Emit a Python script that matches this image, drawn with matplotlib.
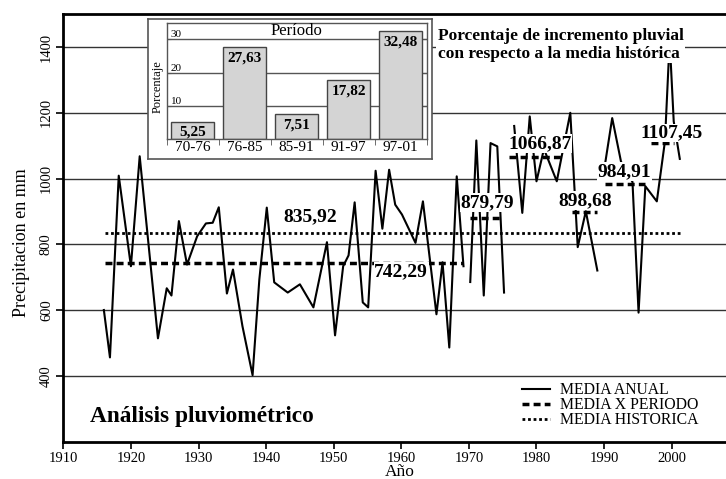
import numpy as np
import matplotlib
matplotlib.use('Agg')
import matplotlib.pyplot as plt

plt.rcParams['font.family'] = 'Liberation Serif'

# serie anual (nan = hueco en la serie)
anios = [1916.0, 1916.9, 1918.2, 1920.0, 1921.3, 1924.0, 1925.3, 1926.0, 1927.1, 1928.3,
         1929.8, 1931.1, 1932.1, 1933.0, 1934.2, 1935.1, 1936.5, 1938.0, 1939.0, 1940.1,
         1941.2, 1943.2, 1945.0, 1947.0, 1949.0, 1950.2, 1951.4, 1952.2, 1953.1, 1954.3,
         1955.1, 1956.2, 1957.2, 1958.2, 1959.1, 1960.1, 1962.1, 1963.2, 1965.2, 1966.1,
         1967.1, 1968.2, 1969.2, 1969.7,
         1970.2, 1971.1, 1972.2, 1973.2, 1974.2, 1975.2, 1976.0,
         1976.7, 1977.9, 1979.0, 1980.0, 1981.1, 1983.0, 1985.0, 1986.1, 1987.3, 1989.0, 1989.6,
         1990.2, 1991.2, 1992.5, 1994.2, 1995.1, 1996.1, 1997.8, 1999.0, 1999.7, 2000.3, 2001.2]
precip = [601, 457, 1009, 734, 1068, 515, 667, 645, 871, 739,
          825, 864, 866, 913, 651, 724, 552, 403, 694, 912,
          685, 654, 679, 609, 807, 524, 734, 767, 928, 624,
          609, 1024, 848, 1027, 921, 891, 805, 931, 588, 746,
          487, 1007, 734, np.nan,
          686, 1116, 645, 1108, 1098, 654, np.nan,
          1160, 896, 1189, 992, 1090, 992, 1200, 792, 901, 721, np.nan,
          1052, 1184, 1052, 990, 593, 977, 931, 1113, 1420, 1174, 1060]

# medias por periodo
periodo_inicio = [1916.2, 1970.2, 1976.0, 1985.3, 1990.2, 1996.9]
periodo_fin = [1969.1, 1975.0, 1983.8, 1989.0, 1996.0, 2000.3]
periodo_media = [742.29, 879.79, 1066.87, 898.68, 984.91, 1107.45]
etiqueta_x = [1960.0, 1972.7, 1980.5, 1987.2, 1993.0, 2000.0]
etiqueta_y = [718, 927, 1106, 933, 1021, 1139]

media_historica = 835.92
historica_rango = [1916.1, 2001.2]

# inserto: incremento respecto a la media historica
periodos = ['70-76', '76-85', '85-91', '91-97', '97-01']
incremento = [5.25, 27.63, 7.51, 17.82, 32.48]


def coma(v):
    return f'{v:.2f}'.replace('.', ',')


fig = plt.figure(figsize=(7.26, 4.79), dpi=100)
ax = fig.add_axes([0.0872, 0.0772, 0.9311, 0.8935])

ax.set_xlim(1910, 2010)
ax.set_ylim(200, 1500)
ax.set_yticks([400, 600, 800, 1000, 1200, 1400])
ax.set_xticks(range(1910, 2010, 10))
ax.grid(axis='y', color='#333333', lw=1)
ax.set_axisbelow(True)
for s in ['left', 'bottom', 'top']:
    ax.spines[s].set_linewidth(2)
ax.spines['right'].set_visible(False)
ax.tick_params(axis='both', length=5, width=1.2, labelsize=10.5, pad=2.5)
for lbl in ax.get_yticklabels():
    lbl.set_rotation(90)
    lbl.set_va('center')

ax.plot(anios, precip, color='black', lw=1.5, label='MEDIA ANUAL', zorder=3)
for i in range(len(periodo_media)):
    ax.plot([periodo_inicio[i], periodo_fin[i]], [periodo_media[i]] * 2, color='black',
            lw=2.5, linestyle=(0, (2, 1.2)), zorder=4,
            label='MEDIA X PERIODO' if i == 0 else None)
ax.plot(historica_rango, [media_historica] * 2, color='black', lw=2,
        linestyle=(0, (1, 1)), label='MEDIA HISTORICA', zorder=4)

for i in range(len(periodo_media)):
    ax.text(etiqueta_x[i], etiqueta_y[i], coma(periodo_media[i]), ha='center', va='center',
            fontsize=14, fontweight='bold', zorder=5,
            bbox=dict(facecolor='white', edgecolor='none', pad=0.5))
ax.text(1946.5, 885, coma(media_historica), ha='center', va='center',
        fontsize=14, fontweight='bold', zorder=5)

ax.text(1913.9, 261, 'Análisis pluviométrico', ha='left', va='baseline',
        fontsize=16.8, fontweight='bold')
ax.text(0.554, 0.968, 'Porcentaje de incremento pluvial\ncon respecto a la media histórica',
        transform=ax.transAxes, ha='left', va='top', fontsize=12.5, fontweight='bold',
        linespacing=1.15, zorder=6,
        bbox=dict(facecolor='white', edgecolor='none', pad=1))

ax.set_ylabel('Precipitacion en mm', fontsize=13)
ax.yaxis.set_label_coords(-0.049, 0.467)
ax.set_xlabel('Año', fontsize=12.5)
ax.xaxis.set_label_coords(0.497, -0.052)

ax.legend(loc='upper left', bbox_to_anchor=(522 / 726, 1 - 382 / 479),
          bbox_transform=fig.transFigure, frameon=False, fontsize=11.3,
          handlelength=1.8, handletextpad=0.6, labelspacing=-0.05,
          borderpad=0, borderaxespad=0)

# marco del inserto
marco = fig.add_axes([0.2043, 0.6674, 0.3912, 0.2923])
marco.set_xticks([])
marco.set_yticks([])
for s in marco.spines.values():
    s.set_color('#555555')
    s.set_linewidth(1.2)

ax_in = fig.add_axes([0.2296, 0.7092, 0.3581, 0.2434])
ax_in.set_xlim(-0.5, 4.5)
ax_in.set_ylim(0, 35)
ax_in.grid(axis='y', color='#555555', lw=1)
ax_in.set_axisbelow(True)
for s in ax_in.spines.values():
    s.set_color('#555555')
    s.set_linewidth(1)
x = np.arange(len(periodos))
ax_in.bar(x, incremento, width=0.83, color='#d4d4d4', edgecolor='#444444', lw=1)
for xi, v in zip(x, incremento):
    ax_in.annotate(coma(v), (xi, v), xytext=(0, -3), textcoords='offset points',
                   ha='center', va='top', fontsize=11, fontweight='bold')
ax_in.set_xticks(x)
ax_in.set_xticklabels(periodos, fontsize=11)
ax_in.set_xticks(np.arange(-0.5, 5, 1), minor=True)
ax_in.tick_params(axis='x', which='major', length=0, pad=1)
ax_in.tick_params(axis='x', which='minor', length=4, color='#555555')
ax_in.set_yticks([10, 20, 30])
ax_in.set_yticklabels(['10', '20', '30'], ha='left', va='bottom', fontsize=8)
ax_in.tick_params(axis='y', direction='in', length=3, right=True, pad=-3, color='#555555')
ax_in.set_ylabel('Porcentaje', fontsize=9)
ax_in.yaxis.set_label_coords(-0.012, 0.453)
ax_in.text(0.5, 0.925, 'Período', transform=ax_in.transAxes, ha='center', va='center',
           fontsize=12)

fig.savefig('out.png', dpi=100, facecolor='white')
